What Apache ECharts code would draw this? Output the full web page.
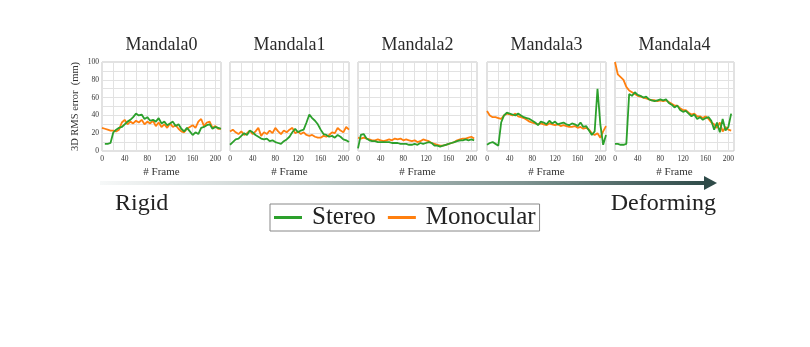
<!DOCTYPE html>
<html>
<head>
<meta charset="utf-8">
<script src="https://cdn.jsdelivr.net/npm/echarts@6/dist/echarts.min.js"></script>
<style>
  html, body { margin: 0; padding: 0; background: #fff; }
  #chart { width: 810px; height: 347px; }
</style>
</head>
<body>
<div id="chart"></div>
<script>
// frame numbers shared by every panel
const frames = [0,5,10,15,20,25,30,35,40,45,50,55,60,65,70,75,80,85,90,95,100,105,110,115,120,125,130,135,140,145,150,155,160,165,170,175,180,185,190,195,200,205,210];
const titles = ['Mandala0', 'Mandala1', 'Mandala2', 'Mandala3', 'Mandala4'];
const xTicks = [0, 40, 80, 120, 160, 200];
const yTicks = [0, 20, 40, 60, 80, 100];

// 3D RMS error (mm)
const mono0   = [26,25,24,23,23,22,24,32,35,30,33,31,34,32,35,30,33,31,34,28,32,27,30,26,31,27,29,25,22,21,25,27,29,26,33,36,28,32,33,26,28,25,25];
const stereo0 = [null,8,8,9,21,24,26,27,30,33,35,38,42,40,41,36,38,34,35,33,37,31,33,29,31,33,28,30,25,22,26,22,18,21,19,26,27,29,30,25,27,26,25];
const mono1   = [22,24,21,19,22,18,20,23,19,22,26,17,21,19,23,20,26,22,19,23,21,24,26,20,22,19,21,18,17,18,16,15,15,17,16,18,21,20,26,23,21,27,24];
const stereo1 = [7,10,13,14,17,20,18,23,21,18,16,14,13,14,11,12,10,9,8,11,13,16,21,25,21,23,24,32,41,37,34,30,24,19,18,16,17,15,18,16,13,12,10];
const mono2   = [15,14,15,14,13,12,12,13,12,11,12,13,12,14,13,14,12,13,12,11,12,10,11,13,12,11,9,8,7,6,6,7,8,9,10,12,13,14,14,15,16,14,null];
const stereo2 = [3,18,19,14,12,11,11,10,10,10,10,10,9,9,9,8,8,8,7,7,8,7,9,8,9,10,9,6,6,5,6,7,8,9,10,11,12,12,13,12,13,12,null];
const mono3   = [45,40,38,38,37,36,40,42,41,40,42,39,38,37,35,33,32,31,30,31,30,29,31,30,29,30,28,29,28,27,27,28,26,27,25,26,24,20,18,20,15,22,28];
const stereo3 = [7,9,10,8,6,32,40,43,42,41,40,42,40,38,37,36,34,32,29,33,32,30,34,31,33,30,31,32,30,29,31,30,28,32,27,28,23,18,22,70,30,7,18];
const mono4   = [100,86,83,80,72,68,66,64,62,61,60,59,58,57,57,56,57,56,57,55,53,51,51,48,46,46,43,41,42,39,39,37,39,36,32,30,26,32,22,27,24,23,null];
const stereo4 = [8,8,7,7,8,64,62,66,63,62,60,61,58,57,56,57,58,57,58,54,52,49,51,46,44,45,42,39,41,36,38,35,37,38,34,24,32,21,36,23,27,42,null];

const stereoData = [stereo0, stereo1, stereo2, stereo3, stereo4];
const monoData = [mono0, mono1, mono2, mono3, mono4];

const serif = '"Liberation Serif", "DejaVu Serif", serif';
const lefts = [102, 230, 358, 487, 615];
const plotW = 119, plotTop = 62, plotH = 89;
const green = '#2ca02c', orange = '#ff7f0e';

const pairs = ys => frames.map((f, i) => [f, ys[i] == null ? '-' : ys[i]]);

const grids = [], xAxes = [], yAxes = [], series = [], titleList = [];
titles.forEach((t, i) => {
    grids.push({
        left: lefts[i], top: plotTop, width: plotW, height: plotH,
        show: true, borderColor: '#c4c4c4', borderWidth: 1,
        outerBoundsMode: 'none'
    });
    titleList.push({
        text: t, left: lefts[i] + plotW / 2, top: 36, textAlign: 'center', padding: 0,
        textStyle: { fontFamily: serif, fontSize: 18, fontWeight: 'normal', color: '#2a2a2a' }
    });
    xAxes.push({
        type: 'value', gridIndex: i, min: 0, max: 210, interval: 20,
        axisLine: { show: false }, axisTick: { show: false },
        splitLine: { lineStyle: { color: '#e2e2e2', width: 1 } },
        axisLabel: {
            formatter: v => xTicks.includes(v) ? String(v) : '',
            fontFamily: serif, fontSize: 7.5, color: '#333', margin: 4
        },
        name: '# Frame', nameLocation: 'middle', nameGap: 16,
        nameTextStyle: { fontFamily: serif, fontSize: 11, color: '#333' }
    });
    yAxes.push({
        type: 'value', gridIndex: i, min: 0, max: 100, interval: 10,
        axisLine: { show: false }, axisTick: { show: false },
        splitLine: { lineStyle: { color: '#e2e2e2', width: 1 } },
        axisLabel: {
            show: i === 0,
            formatter: v => yTicks.includes(v) ? String(v) : '',
            fontFamily: serif, fontSize: 7.5, color: '#333', margin: 3
        },
        name: i === 0 ? '3D RMS error  (mm)' : '',
        nameLocation: 'middle', nameRotate: 90, nameGap: 21,
        nameTextStyle: { fontFamily: serif, fontSize: 10.5, color: '#333' }
    });
    series.push({
        name: 'Monocular', type: 'line', xAxisIndex: i, yAxisIndex: i,
        data: pairs(monoData[i]), showSymbol: false, color: orange,
        lineStyle: { width: 1.8, color: orange }
    });
    series.push({
        name: 'Stereo', type: 'line', xAxisIndex: i, yAxisIndex: i,
        data: pairs(stereoData[i]), showSymbol: false, color: green,
        lineStyle: { width: 1.8, color: green }
    });
});

const chart = echarts.init(document.getElementById('chart'));
chart.setOption({
    animation: false,
    title: titleList,
    grid: grids,
    xAxis: xAxes,
    yAxis: yAxes,
    series: series,
    legend: {
        data: ['Stereo', 'Monocular'],
        left: 270, top: 204,
        icon: 'rect', itemWidth: 28, itemHeight: 3, itemGap: 12,
        padding: [1, 4], borderColor: '#888', borderWidth: 1,
        selectedMode: false,
        textStyle: { fontFamily: serif, fontSize: 25, lineHeight: 20, color: '#222', padding: [0, 0, 0, 5] }
    },
    graphic: [
        {
            type: 'rect', shape: { x: 100, y: 181, width: 606, height: 4 },
            style: {
                fill: new echarts.graphic.LinearGradient(0, 0, 1, 0, [
                    { offset: 0, color: '#f6f8f8' },
                    { offset: 0.35, color: '#c3cccb' },
                    { offset: 0.7, color: '#7d9290' },
                    { offset: 1, color: '#2f4b49' }
                ])
            }
        },
        {
            type: 'polygon', shape: { points: [[704, 176], [717, 183], [704, 190]] },
            style: { fill: '#2f4b49' }
        },
        {
            type: 'text', x: 115, y: 204,
            style: { text: 'Rigid', font: '24px ' + serif, fill: '#222', textVerticalAlign: 'middle' }
        },
        {
            type: 'text', x: 716, y: 204,
            style: { text: 'Deforming', font: '24px ' + serif, fill: '#222', textAlign: 'right', textVerticalAlign: 'middle' }
        }
    ]
});
</script>
</body>
</html>
